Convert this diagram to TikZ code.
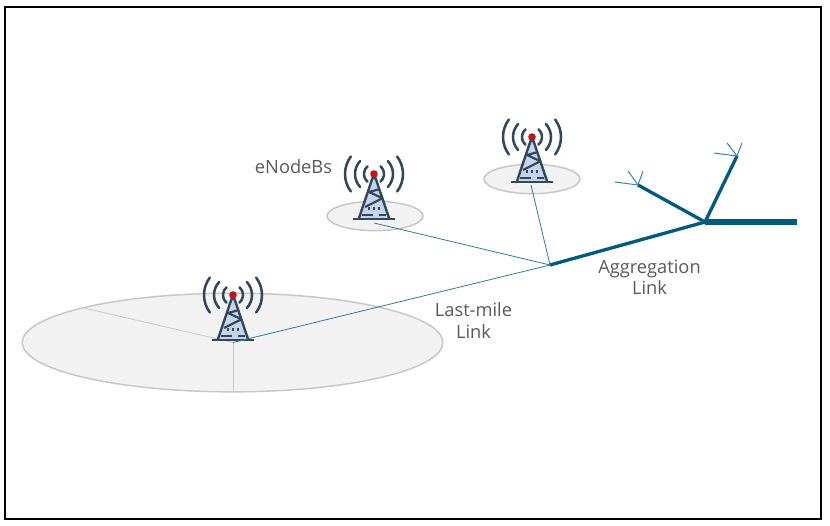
\documentclass[tikz,border=0pt]{standalone}
\usepackage{fontspec}
\setmainfont{Open Sans}
\usepackage{xcolor}
\usetikzlibrary{shapes.geometric}
\definecolor{linkteal}{HTML}{005A7D}
\definecolor{towerdark}{HTML}{33475B}
\definecolor{towerfill}{HTML}{C6D3EA}
\tikzset{
  cell/.style={ellipse,draw=black!22,fill=black!5,line width=1.1pt,inner sep=0pt},
  sector/.style={draw=black!22,line width=0.6pt},
  lastmile/.style={draw=linkteal!80,line width=0.6pt},
  aggr/.style={draw=linkteal,line width=2.5pt},
  aggrmain/.style={draw=linkteal,line width=3.9pt},
  twig/.style={draw=linkteal!75,line width=0.75pt},
  lbl/.style={font=\fontsize{13.7}{16}\selectfont,text=black!65,align=center,inner sep=0pt},
  tower/.pic={
    % radio waves
    \foreach \r/\a in {10/50,19/43,29/37}{
      \draw[towerdark,line width=1.9pt,line cap=round] (-\a:\r) arc (-\a:\a:\r);
      \draw[towerdark,line width=1.9pt,line cap=round] (180-\a:\r) arc (180-\a:180+\a:\r);
    }
    % mast
    \fill[towerfill] (0,2) -- (14,44) -- (-14,44) -- cycle;
    \draw[towerdark,line width=1.8pt,line join=round] (-15,44) -- (-1.5,4) -- (1.5,4) -- (15,44);
    \draw[towerdark,line width=1.6pt] (-5,18) -- (6,15) (-5,18) -- (8,24) (-9,33) -- (9,24);
    \draw[towerdark,line width=1.8pt] (-21,45) -- (21,45);
    \draw[towerdark,line width=1.4pt] (-5,33) -- (-5,36) (0,33) -- (0,36) (5,33) -- (5,36) (-12,41) -- (-1,41) (5,41) -- (12,41);
    \fill[red!70!black!90] (0,0) circle (3.8);
  }
}
\begin{document}
\begin{tikzpicture}[x=0.75pt,y=-0.75pt]
  \useasboundingbox (0,0) rectangle (830,525);
  \draw[line width=1.5pt] (5,7) rectangle (821,519);

  \node[cell,minimum width=315.5pt,minimum height=74pt](cellA) at (232.5,342.5){};
  \node[cell,minimum width=72pt,minimum height=22pt](cellB) at (375,216){};
  \node[cell,minimum width=72pt,minimum height=22pt](cellC) at (532,179){};

  \coordinate (hub) at (550,265);
  \coordinate (split) at (705,222);
  \coordinate (feedA) at (233,342.5);
  \coordinate (feedB) at (374,223);
  \coordinate (feedC) at (531,185);
  \coordinate (secA) at (84,308);
  \coordinate (secB) at (233,391);
  \coordinate (core) at (797,222);
  \coordinate (leafA) at (638,185);
  \coordinate (leafB) at (737,156);
  \coordinate (twigA1) at (615,182);
  \coordinate (twigA2) at (628,171);
  \coordinate (twigA3) at (643,171);
  \coordinate (twigB1) at (714,153);
  \coordinate (twigB2) at (727,143);
  \coordinate (twigB3) at (742,143);

  \draw[sector](feedA)--(secA);
  \draw[sector](feedA)--(secB);

  \draw[lastmile](feedB)--(hub);
  \draw[lastmile](feedC)--(hub);

  \draw[aggr](hub)--(split);
  \draw[aggrmain](split)--(core);
  \draw[aggr](split)--(leafA);
  \draw[aggr](split)--(leafB);
  \foreach \t in {twigA1,twigA2,twigA3}{\draw[twig](leafA)--(\t);}
  \foreach \t in {twigB1,twigB2,twigB3}{\draw[twig](leafB)--(\t);}

  \pic at (233,295){tower};
  \pic at (374,174){tower};
  \pic at (532,137){tower};

  \draw[lastmile](feedA)--(hub);

  \node[lbl](enb) at (293.5,167){eNodeBs};
  \node[lbl](lastlbl) at (473.5,320.5){Last-mile\\Link};
  \node[lbl](aggrlbl) at (649.5,277.5){Aggregation\\Link};
\end{tikzpicture}
\end{document}
